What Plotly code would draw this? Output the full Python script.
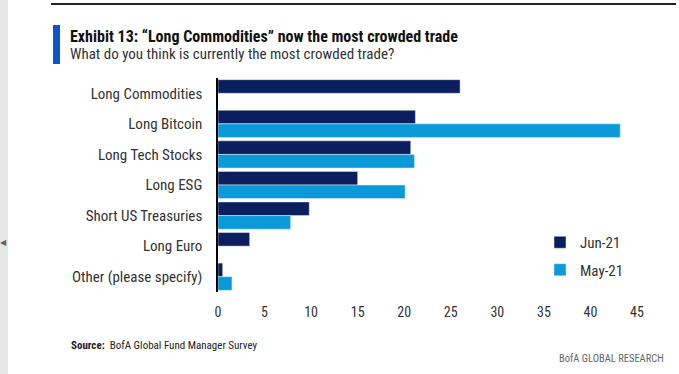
import plotly.graph_objects as go

categories = ["Long Commodities", "Long Bitcoin", "Long Tech Stocks", "Long ESG",
              "Short US Treasuries", "Long Euro", "Other (please specify)"]
jun21 = [26.0, 21.2, 20.7, 15.0, 9.8, 3.4, 0.5]
may21 = [None, 43.2, 21.1, 20.1, 7.8, None, 1.5]
x_ticks = [0, 5, 10, 15, 20, 25, 30, 35, 40, 45]

W, H = 679, 374
L, R, T, B = 218, 637, 78, 292

def px(x):
    return (x - L) / (R - L)

def py(y):
    return (B - y) / (B - T)

FONT = "Liberation Sans Narrow, Roboto Condensed, Arial Narrow, Roboto, sans-serif"
TXT = "#333333"

fig = go.Figure()
fig.add_trace(go.Bar(y=categories, x=jun21, orientation="h", name="Jun-21",
                     marker_color="#0b1f5e", legendgroup="a"))
fig.add_trace(go.Bar(y=categories, x=may21, orientation="h", name="May-21",
                     marker_color="#0a9ad9", legendgroup="b"))

fig.update_layout(
    width=W, height=H,
    margin=dict(l=L, r=W - R, t=T, b=H - B, pad=0),
    paper_bgcolor="white", plot_bgcolor="white",
    barmode="group", bargap=0.11, bargroupgap=0,
    font=dict(family=FONT, size=14, color=TXT),
    showlegend=True,
    legend=dict(x=px(540), y=py(226), xanchor="left", yanchor="top",
                font=dict(size=15, color=TXT), tracegroupgap=5,
                bgcolor="rgba(0,0,0,0)", itemwidth=30),
    xaxis=dict(range=[0, 45], tickvals=x_ticks, showgrid=False, zeroline=False,
               showline=False, ticks="", tickfont=dict(size=14, color=TXT),
               ticklabelstandoff=10),
    yaxis=dict(autorange="reversed", showgrid=False, zeroline=False,
               showline=True, linecolor="black", linewidth=1.5, ticks="",
               tickfont=dict(size=15, color=TXT), ticklabelstandoff=11),
)

shapes = [
    dict(type="rect", xref="paper", yref="paper", x0=px(0), x1=px(8), y0=py(0), y1=py(H),
         fillcolor="#e6e6e6", line_width=0, layer="above"),
    dict(type="line", xref="paper", yref="paper", x0=px(51), x1=px(676), y0=py(4), y1=py(4),
         line=dict(color="#222222", width=2)),
    dict(type="rect", xref="paper", yref="paper", x0=px(53), x1=px(60), y0=py(25), y1=py(64),
         fillcolor="#0a56c8", line_width=0),
]
fig.update_layout(shapes=shapes)

ann = [
    dict(text="<b>Exhibit 13: “Long Commodities” now the most crowded trade</b>",
         x=px(68), y=py(37), xanchor="left", yanchor="middle",
         font=dict(size=16, color="#111111", family=FONT)),
    dict(text="What do you think is currently the most crowded trade?",
         x=px(68), y=py(54), xanchor="left", yanchor="middle",
         font=dict(size=15, color=TXT, family=FONT)),
    dict(text="<b>Source:</b>  BofA Global Fund Manager Survey",
         x=px(69), y=py(345), xanchor="left", yanchor="middle",
         font=dict(size=11, color="#222222", family=FONT)),
    dict(text="BofA GLOBAL RESEARCH",
         x=px(666), y=py(358), xanchor="right", yanchor="middle",
         font=dict(size=10.5, color="#666666", family=FONT)),
    dict(text="◀", x=px(3), y=py(242), xanchor="center", yanchor="middle",
         font=dict(size=8, color="#666666")),
]
for a in ann:
    a.update(xref="paper", yref="paper", showarrow=False)
fig.update_layout(annotations=ann)

fig.write_html("out.html", config={"displayModeBar": False},
               post_script="document.body.style.margin='0';")
